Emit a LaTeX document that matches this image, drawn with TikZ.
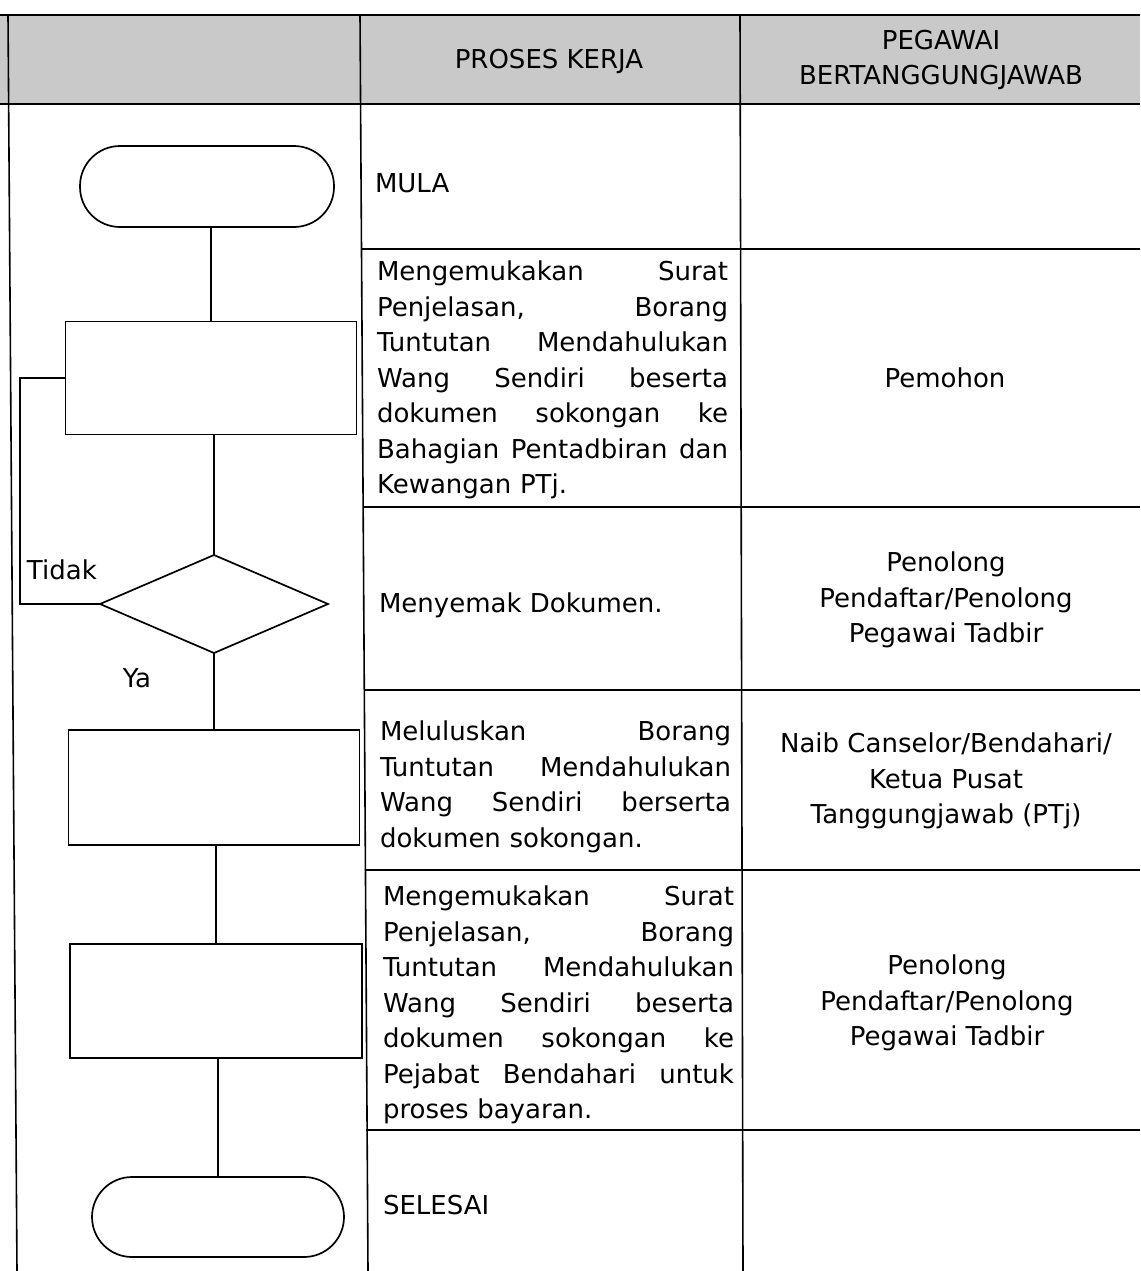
\documentclass[tikz,border=0pt]{standalone}
\usepackage{fontspec}
\setmainfont{DejaVu Sans}
\usetikzlibrary{shapes.geometric}
\newlength\cellw
\setlength\cellw{351pt}
\newcommand\jline[1]{\leavevmode\hbox to \cellw{\strut #1}}
\newcommand\sline[1]{\strut #1}
\begin{document}
\begin{tikzpicture}[x=1pt,y=-1pt,
  every node/.style={inner sep=0pt, outer sep=0pt},
  txt/.style={font=\fontsize{26}{35.5}\selectfont},
  cell/.style={txt, anchor=west, text width=\cellw, align=left},
  resp/.style={txt, align=center},
  term/.style={draw, rectangle, rounded corners=40pt, minimum width=254pt, minimum height=81pt, line width=1.7pt},
  proc/.style={draw, rectangle, minimum width=291pt, minimum height=113pt, line width=1.7pt},
  dec/.style={draw, diamond, minimum width=228pt, minimum height=98pt, line width=1.7pt},
  conn/.style={line width=1.7pt},
  rule/.style={line width=1.6pt}]
\useasboundingbox (0,0) rectangle (1140,1271);

% header band
\fill[black!21] (0,15) rectangle (1140,104);
\draw[rule] (0,15) -- (1140,15);
\draw[rule] (0,104) -- (1140,104);

% table lines
\draw[rule] (8,15) -- (17,1271);
\draw[rule] (360,15) -- (368,1271);
\draw[rule] (740,15) -- (743,1271);
\draw[rule] (362,249) -- (1140,249);
\draw[rule] (363,507) -- (1140,507);
\draw[rule] (364,690) -- (1140,690);
\draw[rule] (365,870) -- (1140,870);
\draw[rule] (366,1130) -- (1140,1130);

% header text
\node[txt] (hproses) at (549,61) {PROSES KERJA};
\node[resp] (hpegawai) at (941,60) {\sline{PEGAWAI}\\\sline{BERTANGGUNGJAWAB}};

% flowchart shapes
\node[term] (t1) at (207,186.5) {};
\node[proc] (b1) at (211,378) {};
\node[dec] (d) at (214,604) {};
\node[proc, minimum height=115pt] (b2) at (214,787.5) {};
\node[proc, minimum width=292pt, minimum height=114pt] (b3) at (216,1001) {};
\node[term, minimum width=252pt, minimum height=80pt] (t2) at (218,1217) {};

% connectors
\draw[conn] (b1.north) -- (b1.north |- t1.south);
\draw[conn] (d.north) -- (d.north |- b1.south);
\draw[conn] (d.south) -- (d.south |- b2.north);
\draw[conn] (b3.north) -- (b3.north |- b2.south);
\draw[conn] (t2.north) -- (t2.north |- b3.south);
\draw[conn] (d.west) -- ++(-80,0) coordinate (loopc) |- (b1.west);

\node[txt, anchor=west] (tidak) at (27,572) {\sline{Tidak}};
\node[txt] (ya) at (137,680) {\sline{Ya}};

% process column
\node[txt, anchor=west] (mula) at (375,185) {\sline{MULA}};
\node[cell] (p2) at (377,380) {\jline{Mengemukakan\hfill Surat}\\\jline{Penjelasan,\hfill Borang}\\\jline{Tuntutan\hfill Mendahulukan}\\\jline{Wang\hfill Sendiri\hfill beserta}\\\jline{dokumen\hfill sokongan\hfill ke}\\\jline{Bahagian\hfill Pentadbiran\hfill dan}\\\sline{Kewangan PTj.}};
\node[txt, anchor=west] (p3) at (379,605) {\sline{Menyemak Dokumen.}};
\node[cell] (p4) at (380,787) {\jline{Meluluskan\hfill Borang}\\\jline{Tuntutan\hfill Mendahulukan}\\\jline{Wang\hfill Sendiri\hfill berserta}\\\sline{dokumen sokongan.}};
\node[cell] (p5) at (383,1005) {\jline{Mengemukakan\hfill Surat}\\\jline{Penjelasan,\hfill Borang}\\\jline{Tuntutan\hfill Mendahulukan}\\\jline{Wang\hfill Sendiri\hfill beserta}\\\jline{dokumen\hfill sokongan\hfill ke}\\\jline{Pejabat\hfill Bendahari\hfill untuk}\\\sline{proses bayaran.}};
\node[txt, anchor=west] (p6) at (383,1207) {\sline{SELESAI}};

% responsible column
\node[resp] (r2) at (945,380) {\sline{Pemohon}};
\node[resp] (r3) at (946,600) {\sline{Penolong}\\\sline{Pendaftar/Penolong}\\\sline{Pegawai Tadbir}};
\node[resp] (r4) at (946,781) {\sline{Naib Canselor/Bendahari/}\\\sline{Ketua Pusat}\\\sline{Tanggungjawab (PTj)}};
\node[resp] (r5) at (947,1003) {\sline{Penolong}\\\sline{Pendaftar/Penolong}\\\sline{Pegawai Tadbir}};
\end{tikzpicture}
\end{document}
